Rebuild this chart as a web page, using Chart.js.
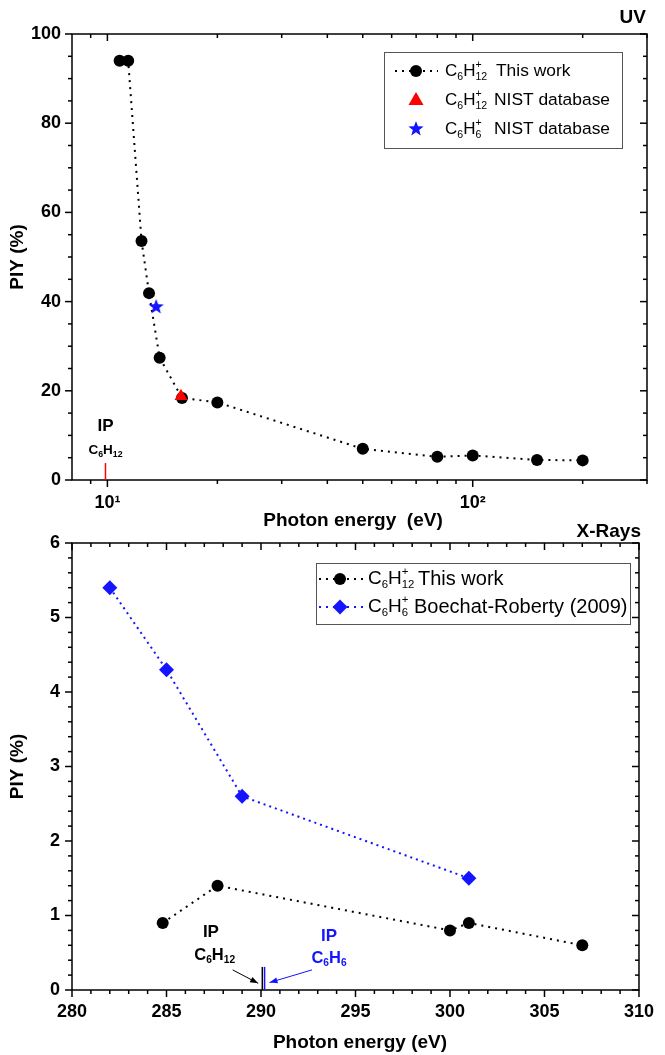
<!DOCTYPE html>
<html><head><meta charset="utf-8">
<script src="https://cdn.jsdelivr.net/npm/chart.js@4.4.1/dist/chart.umd.min.js"></script>
<style>
html,body{margin:0;padding:0;background:#fff;}
body{width:665px;height:1055px;position:relative;overflow:hidden;}
#c1{position:absolute;left:0;top:0;}
#c2{position:absolute;left:0;top:520px;}
</style></head><body>
<canvas id="c1" width="665" height="540"></canvas>
<canvas id="c2" width="665" height="535"></canvas>
<script>
const FONT = "'Liberation Sans', Arial, Helvetica, sans-serif";

// ---------- UV panel data ----------
const uvEnergy = [10.8, 11.4, 12.4, 13.0, 13.9, 16, 20, 50, 80, 100, 150, 200];
const uvPIY    = [94, 94, 53.6, 41.9, 27.4, 18.4, 17.4, 7.0, 5.2, 5.5, 4.5, 4.4];
const nistC6H12Energy = [15.9];
const nistC6H12PIY    = [18.8];
const nistC6H6Energy  = [13.6];
const nistC6H6PIY     = [38.8];
const uvXTicks = [10, 100];
const uvXTickLabels = ['10\u00B9', '10\u00B2'];
const uvXMinor = [9, 20, 30, 40, 50, 60, 70, 80, 90, 200, 300];
const uvYTicks = [0, 20, 40, 60, 80, 100];
const uvYMinor = [5, 10, 15, 25, 30, 35, 45, 50, 55, 65, 70, 75, 85, 90, 95];
const ipC6H12UV = 9.88;

// ---------- X-ray panel data ----------
const xrEnergy = [284.8, 287.7, 300, 301, 307];
const xrPIY    = [0.9, 1.4, 0.8, 0.9, 0.6];
const bzEnergy = [282, 285, 289, 301];
const bzPIY    = [5.4, 4.3, 2.6, 1.5];
const xrXTicks = [280, 285, 290, 295, 300, 305, 310];
const xrXMinor = [281,282,283,284,286,287,288,289,291,292,293,294,296,297,298,299,301,302,303,304,306,307,308,309];
const xrYTicks = [0, 1, 2, 3, 4, 5, 6];
const xrYMinor = [0.2,0.4,0.6,0.8,1.2,1.4,1.6,1.8,2.2,2.4,2.6,2.8,3.2,3.4,3.6,3.8,4.2,4.4,4.6,4.8,5.2,5.4,5.6,5.8];
const ipC6H12X = 290.07;
const ipC6H6X  = 290.19;

function pts(xs, ys){ return xs.map((v,i)=>({x:v, y:ys[i]})); }

function makeStar(r, color){
  const c = document.createElement('canvas');
  c.width = c.height = Math.ceil(2*r+2);
  const g = c.getContext('2d');
  g.fillStyle = color; g.beginPath();
  for (let i=0;i<10;i++){
    const a = -Math.PI/2 + i*Math.PI/5;
    const rr = i%2 ? r*0.42 : r;
    g.lineTo(c.width/2 + rr*Math.cos(a), c.height/2 + rr*Math.sin(a));
  }
  g.closePath(); g.fill();
  return c;
}
const starImg = makeStar(8, '#1414ff');

function drawChem(ctx, x, y, parts, size, weight, color, align, subScale){
  const f = s => `${weight} ${s}px ${FONT}`;
  const small = size*(subScale || 0.62);
  let w = 0;
  const items = parts.map(p=>{
    ctx.font = f(size); const mw = p.t ? ctx.measureText(p.t).width : 0;
    ctx.font = f(small);
    const sw = p.sub ? ctx.measureText(p.sub).width : 0;
    const uw = p.sup ? ctx.measureText(p.sup).width : 0;
    const it = {p, mw, adv: mw + Math.max(sw, uw)}; w += it.adv; return it;
  });
  let cx = align==='center' ? x - w/2 : align==='right' ? x - w : x;
  ctx.fillStyle = color; ctx.textBaseline = 'middle'; ctx.textAlign = 'left';
  items.forEach(it=>{
    ctx.font = f(size); if (it.p.t) ctx.fillText(it.p.t, cx, y);
    ctx.font = f(small);
    if (it.p.sub) ctx.fillText(it.p.sub, cx + it.mw, y + size*0.33);
    if (it.p.sup) ctx.fillText(it.p.sup, cx + it.mw, y - size*0.36);
    cx += it.adv;
  });
  return cx;
}
const C6H12p = [{t:'C', sub:'6'}, {t:'H', sub:'12', sup:'+'}];
const C6H6p  = [{t:'C', sub:'6'}, {t:'H', sub:'6', sup:'+'}];
const C6H12  = [{t:'C', sub:'6'}, {t:'H', sub:'12'}];
const C6H6   = [{t:'C', sub:'6'}, {t:'H', sub:'6'}];

function arrow(ctx, x1, y1, x2, y2, color){
  ctx.strokeStyle = color; ctx.fillStyle = color; ctx.lineWidth = 1;
  ctx.beginPath(); ctx.moveTo(x1,y1); ctx.lineTo(x2,y2); ctx.stroke();
  const a = Math.atan2(y2-y1, x2-x1), L = 8, W = 3;
  ctx.beginPath(); ctx.moveTo(x2,y2);
  ctx.lineTo(x2 - L*Math.cos(a) + W*Math.sin(a), y2 - L*Math.sin(a) - W*Math.cos(a));
  ctx.lineTo(x2 - L*Math.cos(a) - W*Math.sin(a), y2 - L*Math.sin(a) + W*Math.cos(a));
  ctx.closePath(); ctx.fill();
}

function dotted(ctx, x1, x2, y, color){
  ctx.save(); ctx.strokeStyle = color; ctx.lineWidth = 2; ctx.setLineDash([2,5]);
  ctx.beginPath(); ctx.moveTo(x1,y); ctx.lineTo(x2,y); ctx.stroke(); ctx.restore();
}

function framePlugin(cfg){
  return {
    id: 'frame_' + cfg.name,
    beforeDatasetsDraw(chart){
      const {ctx, chartArea:a, scales:{x, y}} = chart;
      ctx.save();
      ctx.strokeStyle = '#000'; ctx.lineWidth = 1.5; ctx.setLineDash([]);
      ctx.strokeRect(a.left, a.top, a.right - a.left, a.bottom - a.top);
      const tick = (px, py, dx, dy) => { ctx.beginPath(); ctx.moveTo(px,py); ctx.lineTo(px+dx, py+dy); ctx.stroke(); };
      cfg.xMajor.forEach(v=>{ const p = x.getPixelForValue(v); tick(p, a.bottom, 0, 7); tick(p, a.top, 0, 7); });
      cfg.xMinor.forEach(v=>{ const p = x.getPixelForValue(v); tick(p, a.bottom, 0, 4); tick(p, a.top, 0, 4); });
      cfg.yMajor.forEach(v=>{ const p = y.getPixelForValue(v); tick(a.left, p, -7, 0); tick(a.right, p, -7, 0); });
      cfg.yMinor.forEach(v=>{ const p = y.getPixelForValue(v); tick(a.left, p, -4, 0); tick(a.right, p, -4, 0); });
      // titles
      ctx.fillStyle = '#000'; ctx.textBaseline = 'middle';
      ctx.font = `bold 19px ${FONT}`; ctx.textAlign = 'center';
      ctx.fillText(cfg.xTitle, cfg.xTitleX, a.bottom + cfg.xTitleDy);
      ctx.save(); ctx.translate(18, (a.top + a.bottom)/2); ctx.rotate(-Math.PI/2);
      ctx.fillText('PIY (%)', 0, 0); ctx.restore();
      ctx.textAlign = 'right';
      ctx.fillText(cfg.corner, cfg.cornerX, cfg.cornerY);
      ctx.restore();
    },
    afterDraw(chart){ cfg.extra(chart); }
  };
}

function tickFont(){ return {family: FONT, size: 18, weight: 'bold'}; }

// ---------------- UV chart ----------------
new Chart(document.getElementById('c1'), {
  type: 'scatter',
  data: { datasets: [
    { label: 'C6H12+ NIST database', data: pts(nistC6H12Energy, nistC6H12PIY), pointStyle: 'triangle',
      pointRadius: 7.5, backgroundColor: '#ff0000', borderColor: '#ff0000', borderWidth: 0, order: 0 },
    { label: 'C6H6+ NIST database', data: pts(nistC6H6Energy, nistC6H6PIY), pointStyle: starImg,
      pointRadius: 8, order: 0 },
    { label: 'C6H12+ This work', data: pts(uvEnergy, uvPIY), showLine: true, borderColor: '#000',
      borderWidth: 2, borderDash: [2,5], pointRadius: 6, pointBackgroundColor: '#000',
      pointBorderColor: '#000', pointBorderWidth: 0, order: 1 }
  ]},
  options: {
    responsive: false, animation: false, devicePixelRatio: 1,
    layout: { padding: { top: 34, right: 18, left: 0, bottom: 0 } },
    plugins: { legend: { display: false }, tooltip: { enabled: false } },
    scales: {
      x: { type: 'logarithmic', min: 8, max: 300,
        grid: { display: false, drawTicks: false }, border: { display: false },
        afterBuildTicks: s => { s.ticks = uvXTicks.map(v => ({value: v})); },
        ticks: { callback: v => uvXTickLabels[uvXTicks.indexOf(v)] ?? '', font: tickFont(), color: '#000',
                 padding: 12, maxRotation: 0, autoSkip: false },
        afterFit: s => { s.height = 60; } },
      y: { min: 0, max: 100,
        grid: { display: false, drawTicks: false }, border: { display: false },
        afterBuildTicks: s => { s.ticks = uvYTicks.map(v => ({value: v})); },
        ticks: { font: tickFont(), color: '#000', padding: 11 },
        afterFit: s => { s.width = 72; } }
    }
  },
  plugins: [framePlugin({
    name: 'uv', xMajor: uvXTicks, xMinor: uvXMinor, yMajor: uvYTicks, yMinor: uvYMinor,
    xTitle: 'Photon energy  (eV)', xTitleX: 353, xTitleDy: 41, corner: 'UV', cornerX: 646, cornerY: 18,
    extra(chart){
      const {ctx, scales:{x, y}} = chart;
      ctx.save();
      // IP marker
      const px = x.getPixelForValue(ipC6H12UV);
      ctx.strokeStyle = '#ff0000'; ctx.lineWidth = 1.5;
      ctx.beginPath(); ctx.moveTo(px, y.getPixelForValue(0)); ctx.lineTo(px, y.getPixelForValue(3.8)); ctx.stroke();
      ctx.fillStyle = '#000'; ctx.font = `bold 17px ${FONT}`; ctx.textAlign = 'center'; ctx.textBaseline = 'middle';
      ctx.fillText('IP', px, y.getPixelForValue(12));
      drawChem(ctx, px, y.getPixelForValue(6.6), C6H12, 13.5, 'bold', '#000', 'center', 0.65);
      // legend
      ctx.strokeStyle = '#555'; ctx.lineWidth = 1; ctx.setLineDash([]);
      ctx.strokeRect(384.5, 52.5, 238, 96);
      dotted(ctx, 395, 438, 71, '#000');
      ctx.fillStyle = '#000'; ctx.beginPath(); ctx.arc(416, 71, 6, 0, 2*Math.PI); ctx.fill();
      ctx.fillStyle = '#ff0000'; ctx.beginPath();
      ctx.moveTo(416, 92); ctx.lineTo(423.5, 105); ctx.lineTo(408.5, 105); ctx.closePath(); ctx.fill();
      ctx.drawImage(starImg, 416 - starImg.width/2, 129 - starImg.height/2);
      drawChem(ctx, 445, 71, C6H12p, 17, 'normal', '#000', 'left');
      drawChem(ctx, 445, 100, C6H12p, 17, 'normal', '#000', 'left');
      drawChem(ctx, 445, 129, C6H6p, 17, 'normal', '#000', 'left');
      ctx.font = `17.4px ${FONT}`; ctx.fillStyle = '#000'; ctx.textAlign = 'left'; ctx.textBaseline = 'middle';
      ctx.fillText('This work', 496, 71);
      ctx.fillText('NIST database', 494, 100);
      ctx.fillText('NIST database', 494, 129);
      ctx.restore();
    }
  })]
});

// ---------------- X-ray chart ----------------
new Chart(document.getElementById('c2'), {
  type: 'scatter',
  data: { datasets: [
    { label: 'C6H12+ This work', data: pts(xrEnergy, xrPIY), showLine: true, borderColor: '#000',
      borderWidth: 2, borderDash: [2,5], pointRadius: 6, pointBackgroundColor: '#000',
      pointBorderColor: '#000', pointBorderWidth: 0 },
    { label: 'C6H6+ Boechat-Roberty (2009)', data: pts(bzEnergy, bzPIY), showLine: true, borderColor: '#1414ff',
      borderWidth: 2, borderDash: [2,4], pointStyle: 'rectRot', pointRadius: 7.5,
      pointBackgroundColor: '#1414ff', pointBorderColor: '#1414ff', pointBorderWidth: 0 }
  ]},
  options: {
    responsive: false, animation: false, devicePixelRatio: 1,
    layout: { padding: { top: 23, right: 18, left: 0, bottom: 0 } },
    plugins: { legend: { display: false }, tooltip: { enabled: false } },
    scales: {
      x: { type: 'linear', min: 280, max: 310,
        grid: { display: false, drawTicks: false }, border: { display: false },
        afterBuildTicks: s => { s.ticks = xrXTicks.map(v => ({value: v})); },
        ticks: { font: tickFont(), color: '#000', padding: 11, maxRotation: 0, autoSkip: false },
        afterFit: s => { s.height = 65; } },
      y: { min: 0, max: 6,
        grid: { display: false, drawTicks: false }, border: { display: false },
        afterBuildTicks: s => { s.ticks = xrYTicks.map(v => ({value: v})); },
        ticks: { font: tickFont(), color: '#000', padding: 12 },
        afterFit: s => { s.width = 72; } }
    }
  },
  plugins: [framePlugin({
    name: 'xr', xMajor: xrXTicks, xMinor: xrXMinor, yMajor: xrYTicks, yMinor: xrYMinor,
    xTitle: 'Photon energy (eV)', xTitleX: 360, xTitleDy: 53, corner: 'X-Rays', cornerX: 641, cornerY: 12,
    extra(chart){
      const {ctx, scales:{x, y}} = chart;
      ctx.save();
      const y0 = y.getPixelForValue(0), yt = y.getPixelForValue(0.31);
      const pk = x.getPixelForValue(ipC6H12X), pb = x.getPixelForValue(ipC6H6X);
      ctx.lineWidth = 1.5;
      ctx.strokeStyle = '#000'; ctx.beginPath(); ctx.moveTo(pk, y0); ctx.lineTo(pk, yt); ctx.stroke();
      ctx.strokeStyle = '#1414ff'; ctx.beginPath(); ctx.moveTo(pb, y0); ctx.lineTo(pb, yt); ctx.stroke();
      arrow(ctx, x.getPixelForValue(288.5), y.getPixelForValue(0.27), x.getPixelForValue(289.85), y.getPixelForValue(0.09), '#000');
      arrow(ctx, x.getPixelForValue(292.7), y.getPixelForValue(0.27), x.getPixelForValue(290.45), y.getPixelForValue(0.10), '#1414ff');
      ctx.font = `bold 17px ${FONT}`; ctx.textAlign = 'center'; ctx.textBaseline = 'middle';
      ctx.fillStyle = '#000'; ctx.fillText('IP', x.getPixelForValue(287.35), y.getPixelForValue(0.77));
      drawChem(ctx, x.getPixelForValue(287.55), y.getPixelForValue(0.47), C6H12, 16.5, 'bold', '#000', 'center', 0.62);
      ctx.fillStyle = '#1414ff'; ctx.font = `bold 17px ${FONT}`; ctx.textAlign = 'center';
      ctx.fillText('IP', x.getPixelForValue(293.6), y.getPixelForValue(0.72));
      drawChem(ctx, x.getPixelForValue(293.6), y.getPixelForValue(0.43), C6H6, 16.5, 'bold', '#1414ff', 'center', 0.62);
      // legend (canvas offset 520)
      ctx.strokeStyle = '#555'; ctx.lineWidth = 1; ctx.setLineDash([]);
      ctx.strokeRect(316.5, 43.5, 314, 61);
      dotted(ctx, 319, 363, 59, '#000');
      ctx.fillStyle = '#000'; ctx.beginPath(); ctx.arc(340, 59, 6, 0, 2*Math.PI); ctx.fill();
      dotted(ctx, 319, 363, 87, '#1414ff');
      ctx.fillStyle = '#1414ff'; ctx.beginPath();
      ctx.moveTo(340, 79.5); ctx.lineTo(347.5, 87); ctx.lineTo(340, 94.5); ctx.lineTo(332.5, 87); ctx.closePath(); ctx.fill();
      drawChem(ctx, 368, 59, C6H12p, 19, 'normal', '#000', 'left', 0.6);
      drawChem(ctx, 368, 87, C6H6p, 19, 'normal', '#000', 'left', 0.6);
      ctx.font = `20px ${FONT}`; ctx.fillStyle = '#000'; ctx.textAlign = 'left'; ctx.textBaseline = 'middle';
      ctx.fillText('This work', 418, 59);
      ctx.fillText('Boechat-Roberty (2009)', 414, 87);
      ctx.restore();
    }
  })]
});
</script>
</body></html>
